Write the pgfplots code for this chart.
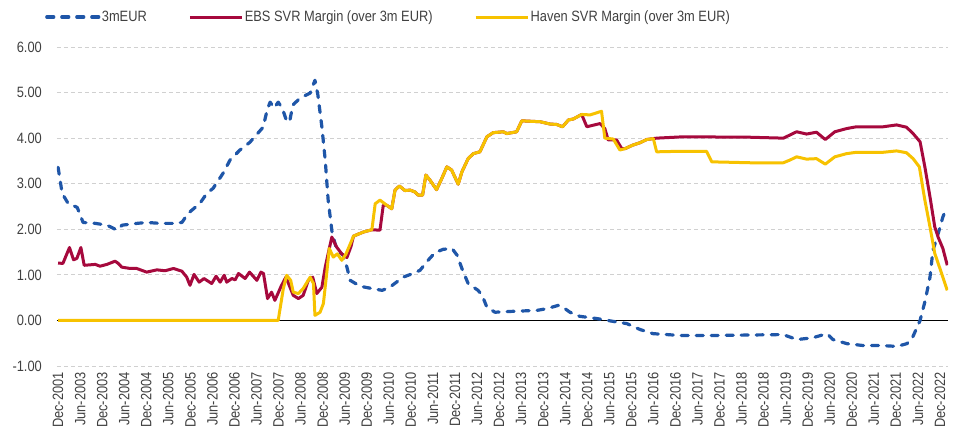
\documentclass[border=0pt]{standalone}
\usepackage{pgfplots}
\pgfplotsset{compat=1.18}
\usepackage{fontspec}
\setmainfont{Liberation Sans}[FakeStretch=0.86]
\definecolor{cblue}{HTML}{1F56A8}
\definecolor{cred}{HTML}{A6093D}
\definecolor{cyellow}{HTML}{F7C200}
\definecolor{ctext}{HTML}{404040}
\definecolor{cgrid}{HTML}{D0D0D0}
\begin{document}
\begin{tikzpicture}
\begin{axis}[
  scale only axis,
  width=891bp, height=319bp,
  xmin=-0.3, xmax=242.2,
  ymin=-1, ymax=6,
  axis line style={draw=none},
  major tick length=0pt,
  ytick={-1,0,1,2,3,4,5,6},
  yticklabels={-1.00,0.00,1.00,2.00,3.00,4.00,5.00,6.00},
  xtick={0,6,...,240},
  xticklabels={Dec-2001,Jun-2003,Dec-2003,Jun-2004,Dec-2004,Jun-2005,Dec-2005,Jun-2006,Dec-2006,Jun-2007,Dec-2007,Jun-2008,Dec-2008,Jun-2009,Dec-2009,Jun-2010,Dec-2010,Jun-2011,Dec-2011,Jun-2012,Dec-2012,Jun-2013,Dec-2013,Jun-2014,Dec-2014,Jun-2015,Dec-2015,Jun-2016,Dec-2016,Jun-2017,Dec-2017,Jun-2018,Dec-2018,Jun-2019,Dec-2019,Jun-2020,Dec-2020,Jun-2021,Dec-2021,Jun-2022,Dec-2022},
  yticklabel style={font=\fontsize{15}{18}\selectfont, text=ctext, inner sep=0pt},
  yticklabel shift=15bp,
  xticklabel style={font=\fontsize{15}{18}\selectfont, text=ctext, rotate=90, anchor=east, inner sep=0pt},
  xticklabel shift=6bp,
  ymajorgrids=true,
  major grid style={cgrid, line width=0.8bp, dash pattern=on 4bp off 3bp},
  extra y ticks={0},
  extra y tick labels={},
  extra y tick style={grid=major, major grid style={black, solid, line width=1bp}},
  legend columns=-1,
  legend style={at={(axis description cs:-0.0135,1)}, anchor=west, yshift=30bp,
    draw=none, fill=none, inner sep=0pt,
    font=\fontsize{15}{18}\selectfont, text=ctext,
    nodes={inner sep=1.5bp},
    /tikz/every even column/.append style={column sep=40bp}},
  legend image code/.code={\draw[#1] (0bp,0bp) -- (52bp,0bp);},
]
\addplot[cblue, line width=3.2bp, dash pattern=on 7bp off 8bp, line cap=round, line join=round] coordinates {
(0,3.36) (1.1,2.79) (2.7,2.57) (5.2,2.48) (6.8,2.15) (10.1,2.13) (13.3,2.09) (16.1,1.98) (17.4,2.09) (21.5,2.13) (24.2,2.15) (27.8,2.13) (31.3,2.13) (33.7,2.15) (35.4,2.35) (38.6,2.57) (40.5,2.79) (42.2,2.90) (44.9,3.23) (46.8,3.52) (49.5,3.74) (52.2,3.91) (55.8,4.24) (56.9,4.62) (57.7,4.79) (58.8,4.66) (59.9,4.79) (61.0,4.66) (62.3,4.35) (63.1,4.40) (63.9,4.73) (65.9,4.88) (68.6,4.99) (69.9,5.27) (70.7,4.95) (71.8,4.24) (72.7,3.52) (73.5,2.64) (74.6,1.91) (75.9,1.54) (77.6,1.43) (78.6,1.17) (79.5,0.88) (82.2,0.75) (85.4,0.70) (88.2,0.66) (90.3,0.73) (93.9,0.95) (96.6,1.03) (98.5,1.10) (100.7,1.32) (102.6,1.49) (104.8,1.56) (107.2,1.58) (108.6,1.43) (109.9,1.14) (111.6,0.81) (114.3,0.66) (115.4,0.55) (116.7,0.29) (118.9,0.18) (123.8,0.20) (130.3,0.22) (133.1,0.26) (136.1,0.33) (137.4,0.29) (139.3,0.18) (142.0,0.09) (146.7,0.04) (151.0,-0.02) (154.8,-0.07) (158.4,-0.20) (161.9,-0.29) (169.3,-0.33) (178.8,-0.33) (188.3,-0.32) (197.3,-0.31) (201.1,-0.42) (205.4,-0.38) (209.3,-0.29) (210.9,-0.42) (214.7,-0.51) (219.0,-0.55) (223.7,-0.55) (228.3,-0.57) (231.0,-0.51) (232.4,-0.40) (234.6,0.0) (236.0,0.44) (237.3,0.95) (238.1,1.54) (239.5,1.90) (240.8,2.27) (241.9,2.49)
};
\addlegendentry{3mEUR}
\addplot[cred, line width=3bp, line join=round] coordinates {
(0,1.26) (1.3,1.25) (3.1,1.60) (4.2,1.33) (5.1,1.36) (6.2,1.60) (7.1,1.21) (8.7,1.22) (10.1,1.23) (11.4,1.19) (13.3,1.23) (15.5,1.30) (16.4,1.25) (17.3,1.17) (19.6,1.14) (21.4,1.14) (24.1,1.06) (26.9,1.11) (29.1,1.09) (31.4,1.14) (33.7,1.08) (35.0,0.95) (35.9,0.77) (37.0,1.01) (38.4,0.84) (39.7,0.92) (41.8,0.81) (43.0,0.97) (44.1,0.84) (45.2,0.99) (45.9,0.84) (47.3,0.92) (48.2,0.89) (49.1,1.03) (50.9,0.92) (52.1,1.06) (54.1,0.88) (55.2,1.06) (55.9,1.03) (57.0,0.48) (58.1,0.62) (59.0,0.44) (60.7,0.75) (62.0,0.95) (64.0,0.55) (65.4,0.48) (66.7,0.55) (68.1,0.88) (69.3,0.95) (70.4,0.59) (71.8,0.73) (72.7,1.17) (74.5,1.83) (75.8,1.61) (77.2,1.46) (78.6,1.38) (79.7,1.62) (80.4,1.85) (83.1,1.94) (85.4,1.99) (87.6,1.98) (88.5,2.53) (89.4,2.53) (90.8,2.45) (91.7,2.86) (92.9,2.95) (94.4,2.85) (95.8,2.86) (97.1,2.82) (98.0,2.75) (99.2,2.75) (100.1,3.19) (101.2,3.08) (103.0,2.87) (104.4,3.11) (105.8,3.37) (107.1,3.30) (108.9,2.99) (109.9,3.26) (111.6,3.55) (113.0,3.66) (114.8,3.70) (116.7,4.03) (118.4,4.12) (121.2,4.14) (122.1,4.10) (124.8,4.14) (126.2,4.38) (131.2,4.36) (133.9,4.31) (135.7,4.30) (137.3,4.25) (138.9,4.40) (140.2,4.42) (142.5,4.52) (143.9,4.25) (147.5,4.32) (148.8,4.21) (149.7,3.96) (152.0,3.96) (153.4,3.77) (154.3,3.77) (156.5,3.85) (158.4,3.90) (160.2,3.97) (162.0,3.99) (162.9,4.00) (170.2,4.03) (188.3,4.02) (197.4,4.00) (199.2,4.07) (201.0,4.14) (203.7,4.09) (206.4,4.13) (208.8,3.97) (211.4,4.14) (214.6,4.21) (217.3,4.25) (224.6,4.25) (228.2,4.29) (230.9,4.24) (232.7,4.10) (234.6,3.92) (235.9,3.37) (237.3,2.71) (238.6,2.05) (239.5,1.83) (240.8,1.58) (242.0,1.21)
};
\addlegendentry{EBS SVR Margin (over 3m EUR)}
\addplot[cyellow, line width=3bp, line join=round] coordinates {
(0,0) (59.9,0) (61.3,0.70) (62.2,0.99) (63.3,0.88) (64.0,0.62) (65.4,0.59) (66.7,0.70) (68.6,0.95) (69.5,0.81) (69.9,0.11) (71.3,0.18) (72.2,0.37) (73.1,1.03) (73.8,1.58) (74.9,1.39) (76.0,1.46) (77.2,1.32) (78.3,1.45) (79.2,1.62) (80.4,1.85) (83.1,1.94) (85.4,1.99) (86.3,2.56) (87.6,2.64) (89.4,2.53) (90.8,2.45) (91.7,2.86) (92.9,2.95) (94.4,2.85) (95.8,2.86) (97.1,2.82) (98.0,2.75) (99.2,2.75) (100.1,3.19) (101.2,3.08) (103.0,2.87) (104.4,3.11) (105.8,3.37) (107.1,3.30) (108.9,2.99) (109.9,3.26) (111.6,3.55) (113.0,3.66) (114.8,3.70) (116.7,4.03) (118.4,4.12) (121.2,4.14) (122.1,4.10) (124.8,4.14) (126.2,4.38) (131.2,4.36) (133.9,4.31) (135.7,4.30) (137.3,4.25) (138.9,4.40) (140.2,4.42) (142.5,4.52) (144.8,4.51) (147.9,4.59) (148.8,4.00) (151.1,3.98) (152.9,3.74) (154.3,3.77) (156.5,3.85) (158.4,3.90) (160.2,3.97) (162.0,3.99) (162.9,3.70) (168.4,3.71) (176.5,3.71) (177.9,3.48) (188.3,3.46) (197.4,3.46) (199.2,3.52) (201.0,3.59) (203.7,3.54) (206.4,3.55) (208.8,3.43) (211.4,3.59) (214.6,3.66) (217.3,3.69) (224.6,3.69) (228.2,3.72) (230.9,3.68) (232.7,3.55) (234.4,3.37) (235.9,2.64) (237.3,2.05) (238.6,1.47) (240.0,1.14) (242.0,0.66)
};
\addlegendentry{Haven SVR Margin (over 3m EUR)}
\end{axis}
\pgfresetboundingbox
\path (-57bp,-70bp) rectangle (901bp,366bp);
\end{tikzpicture}
\end{document}
